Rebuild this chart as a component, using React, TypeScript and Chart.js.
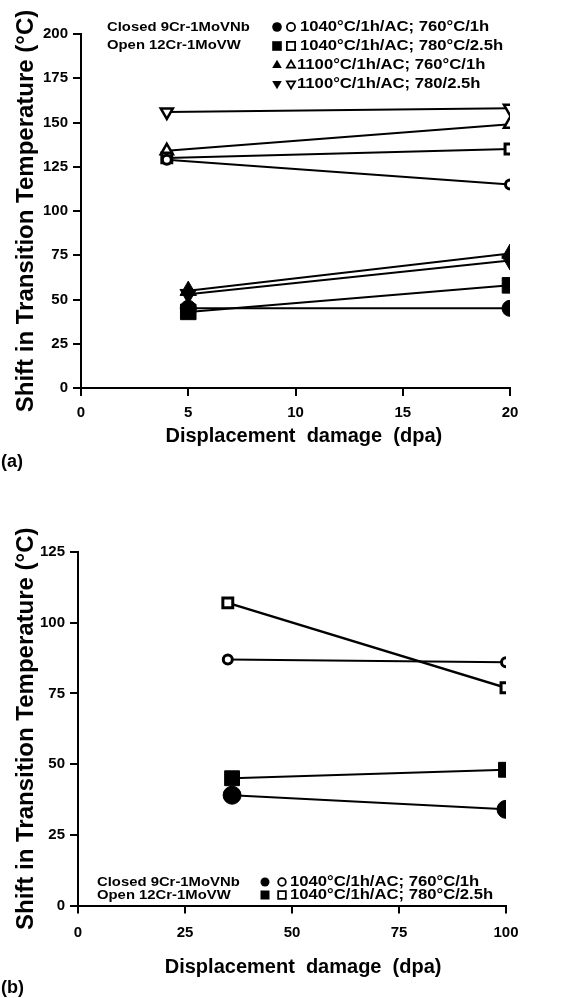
import React, { useEffect, useRef } from 'react';
import { Chart, registerables } from 'chart.js';

Chart.register(...registerables);

const FONT = '"Liberation Sans", Arial, Helvetica, sans-serif';

// ---------- Panel (a) data ----------
const A_DPA_CLOSED = [5, 20];
const A_DPA_OPEN = [4, 20];
const A_CLOSED_1040_760 = [45, 45];
const A_CLOSED_1040_780 = [43, 58];
const A_CLOSED_1100_760 = [55, 76];
const A_CLOSED_1100_780 = [53, 72];
const A_OPEN_1040_760 = [129, 115];
const A_OPEN_1040_780 = [130, 135];
const A_OPEN_1100_760 = [134, 149];
const A_OPEN_1100_780 = [156, 158];
const A_X_TICKS = [0, 5, 10, 15, 20];
const A_Y_TICKS = [0, 25, 50, 75, 100, 125, 150, 175, 200];

// ---------- Panel (b) data ----------
const B_DPA_CLOSED = [36, 100];
const B_DPA_OPEN = [35, 100];
const B_CLOSED_1040_760 = [39, 34];
const B_CLOSED_1040_780 = [45, 48];
const B_OPEN_1040_760 = [87, 86];
const B_OPEN_1040_780 = [107, 77];
const B_X_TICKS = [0, 25, 50, 75, 100];
const B_Y_TICKS = [0, 25, 50, 75, 100, 125];

// ---------- Text ----------
const X_TITLE = 'Displacement  damage  (dpa)';
const Y_TITLE = 'Shift in Transition Temperature (°C)';
const MATERIALS = ['Closed 9Cr-1MoVNb', 'Open 12Cr-1MoVW'];
const TREATMENTS_A = [
  '1040°C/1h/AC; 760°C/1h',
  '1040°C/1h/AC; 780°C/2.5h',
  '1100°C/1h/AC; 760°C/1h',
  '1100°C/1h/AC; 780/2.5h',
];
const TREATMENTS_B = ['1040°C/1h/AC; 760°C/1h', '1040°C/1h/AC; 780°C/2.5h'];
const STYLES_A = ['circle', 'rect', 'triangle', 'triangleDown'];
const STYLES_B = ['circle', 'rect'];

type Style = 'circle' | 'rect' | 'triangle' | 'triangleDown';

function mk(xs: number[], ys: number[], style: Style, filled: boolean, r: number, bw: number, lw: number) {
  return {
    data: xs.map((x, i) => ({ x, y: ys[i] })),
    pointStyle: style === 'triangleDown' ? 'triangle' : style,
    pointRotation: style === 'triangleDown' ? 180 : 0,
    pointRadius: r,
    pointHoverRadius: r,
    pointBackgroundColor: filled ? '#000' : '#fff',
    pointBorderColor: '#000',
    pointBorderWidth: filled ? 1 : bw,
    borderColor: '#000',
    borderWidth: lw,
    fill: false,
    tension: 0,
  };
}

function drawMarker(ctx: CanvasRenderingContext2D, style: string, filled: boolean, x: number, y: number, r: number) {
  ctx.save();
  ctx.beginPath();
  if (style === 'circle') {
    ctx.arc(x, y, r, 0, Math.PI * 2);
  } else if (style === 'rect') {
    ctx.rect(x - r, y - r, 2 * r, 2 * r);
  } else if (style === 'triangle') {
    ctx.moveTo(x, y - r * 1.1);
    ctx.lineTo(x + r, y + r * 0.65);
    ctx.lineTo(x - r, y + r * 0.65);
    ctx.closePath();
  } else {
    ctx.moveTo(x, y + r * 1.1);
    ctx.lineTo(x + r, y - r * 0.65);
    ctx.lineTo(x - r, y - r * 0.65);
    ctx.closePath();
  }
  if (filled) {
    ctx.fillStyle = '#000';
    ctx.fill();
  } else {
    ctx.fillStyle = '#fff';
    ctx.fill();
    ctx.lineWidth = 1.8;
    ctx.strokeStyle = '#000';
    ctx.stroke();
  }
  ctx.restore();
}

function stretchText(ctx: CanvasRenderingContext2D, text: string, x: number, y: number, sx: number) {
  ctx.save();
  ctx.translate(x, y);
  ctx.scale(sx, 1);
  ctx.fillText(text, 0, 0);
  ctx.restore();
}

type LegendCfg = {
  panel: string;
  panelY: number;
  matX: number;
  matY: number[];
  rowsY: number[];
  filledX: number;
  openX: number;
  textX: number[];
  styles: string[];
  texts: string[];
  mr: number;
};

function legendPlugin(cfg: LegendCfg) {
  return {
    id: 'customLegend',
    afterDraw(chart: any) {
      const ctx: CanvasRenderingContext2D = chart.ctx;
      ctx.save();
      ctx.fillStyle = '#000';
      ctx.textBaseline = 'middle';
      ctx.textAlign = 'left';
      ctx.font = `bold 13.5px ${FONT}`;
      MATERIALS.forEach((m, i) => stretchText(ctx, m, cfg.matX, cfg.matY[i], 1.1));
      ctx.font = `bold 14px ${FONT}`;
      cfg.texts.forEach((t, i) => {
        const y = cfg.rowsY[i];
        drawMarker(ctx, cfg.styles[i], true, cfg.filledX, y, cfg.mr);
        drawMarker(ctx, cfg.styles[i], false, cfg.openX, y, cfg.mr * 0.85);
        ctx.fillStyle = '#000';
        stretchText(ctx, t, cfg.textX[i], y, 1.19);
      });
      ctx.font = `bold 18px ${FONT}`;
      ctx.fillText(cfg.panel, 1, cfg.panelY);
      ctx.restore();
    },
  };
}

function scales(
  xMax: number, xTicks: number[], yMax: number, yTicks: number[],
  yW: number, xH: number, xTickPad: number, xTitleShift: string,
) {
  const tickFont = { family: FONT, size: 15, weight: 'bold' as const };
  return {
    x: {
      type: 'linear' as const,
      min: 0,
      max: xMax,
      afterBuildTicks: (s: any) => { s.ticks = xTicks.map((v) => ({ value: v })); },
      afterFit: (s: any) => { s.height = xH; },
      ticks: { font: tickFont, color: '#000', padding: xTickPad, maxRotation: 0 },
      grid: { display: true, drawOnChartArea: false, drawTicks: true, tickLength: 8, color: '#000', lineWidth: 2 },
      border: { display: true, color: '#000', width: 2 },
      title: {
        display: true,
        text: xTitleShift + X_TITLE,
        color: '#000',
        font: { family: FONT, size: 20, weight: 'bold' as const },
        padding: { top: 0, bottom: 10 },
      },
    },
    y: {
      type: 'linear' as const,
      min: 0,
      max: yMax,
      afterBuildTicks: (s: any) => { s.ticks = yTicks.map((v) => ({ value: v })); },
      afterFit: (s: any) => { s.width = yW; },
      ticks: { font: tickFont, color: '#000', padding: 5 },
      grid: { display: true, drawOnChartArea: false, drawTicks: true, tickLength: 8, color: '#000', lineWidth: 2 },
      border: { display: true, color: '#000', width: 2 },
      title: {
        display: true,
        text: Y_TITLE,
        color: '#000',
        font: { family: FONT, size: 24, weight: 'bold' as const },
        padding: { top: 12, bottom: 0 },
      },
    },
  };
}

function ChartA() {
  const ref = useRef<HTMLCanvasElement>(null);
  useEffect(() => {
    const chart = new Chart(ref.current!, {
      type: 'line',
      data: {
        datasets: [
          mk(A_DPA_OPEN, A_OPEN_1040_760, 'circle', false, 4.5, 3, 2),
          mk(A_DPA_OPEN, A_OPEN_1040_780, 'rect', false, 7, 3, 2),
          mk(A_DPA_OPEN, A_OPEN_1100_760, 'triangle', false, 7, 2.5, 2),
          mk(A_DPA_OPEN, A_OPEN_1100_780, 'triangleDown', false, 7, 2.5, 2),
          mk(A_DPA_CLOSED, A_CLOSED_1040_760, 'circle', true, 8, 0, 2),
          mk(A_DPA_CLOSED, A_CLOSED_1040_780, 'rect', true, 11, 0, 2),
          mk(A_DPA_CLOSED, A_CLOSED_1100_760, 'triangle', true, 9.5, 0, 2),
          mk(A_DPA_CLOSED, A_CLOSED_1100_780, 'triangleDown', true, 9.5, 0, 2),
        ] as any,
      },
      options: {
        animation: false,
        responsive: false,
        layout: { padding: { left: 0, right: 55, top: 34, bottom: 42 } },
        plugins: { legend: { display: false }, tooltip: { enabled: false } },
        scales: scales(20, A_X_TICKS, 200, A_Y_TICKS, 81, 70, 8, '   ') as any,
      },
      plugins: [
        legendPlugin({
          panel: '(a)',
          panelY: 462,
          matX: 107,
          matY: [27, 45],
          rowsY: [27, 46, 65, 84],
          filledX: 277,
          openX: 291,
          textX: [300, 300, 297, 297],
          styles: STYLES_A,
          texts: TREATMENTS_A,
          mr: 4.8,
        }),
      ],
    });
    return () => chart.destroy();
  }, []);
  return <canvas ref={ref} width={565} height={500} style={{ display: 'block' }} />;
}

function ChartB() {
  const ref = useRef<HTMLCanvasElement>(null);
  useEffect(() => {
    const chart = new Chart(ref.current!, {
      type: 'line',
      data: {
        datasets: [
          mk(B_DPA_OPEN, B_OPEN_1040_760, 'circle', false, 4.5, 3, 2),
          mk(B_DPA_OPEN, B_OPEN_1040_780, 'rect', false, 7, 3, 2.5),
          mk(B_DPA_CLOSED, B_CLOSED_1040_760, 'circle', true, 9, 0, 2),
          mk(B_DPA_CLOSED, B_CLOSED_1040_780, 'rect', true, 10.5, 0, 2),
        ] as any,
      },
      options: {
        animation: false,
        responsive: false,
        layout: { padding: { left: 0, right: 59, top: 52, bottom: 9 } },
        plugins: { legend: { display: false }, tooltip: { enabled: false } },
        scales: scales(100, B_X_TICKS, 125, B_Y_TICKS, 78, 83.5, 10, '    ') as any,
      },
      plugins: [
        legendPlugin({
          panel: '(b)',
          panelY: 488,
          matX: 97,
          matY: [382, 395],
          rowsY: [382, 395],
          filledX: 265,
          openX: 282,
          textX: [290, 290],
          styles: STYLES_B,
          texts: TREATMENTS_B,
          mr: 4.5,
        }),
      ],
    });
    return () => chart.destroy();
  }, []);
  return <canvas ref={ref} width={565} height={498} style={{ display: 'block' }} />;
}

export default function App() {
  return (
    <div style={{ position: 'absolute', left: 0, top: 0, width: 565, height: 998, background: '#fff' }}>
      <ChartA />
      <ChartB />
    </div>
  );
}
